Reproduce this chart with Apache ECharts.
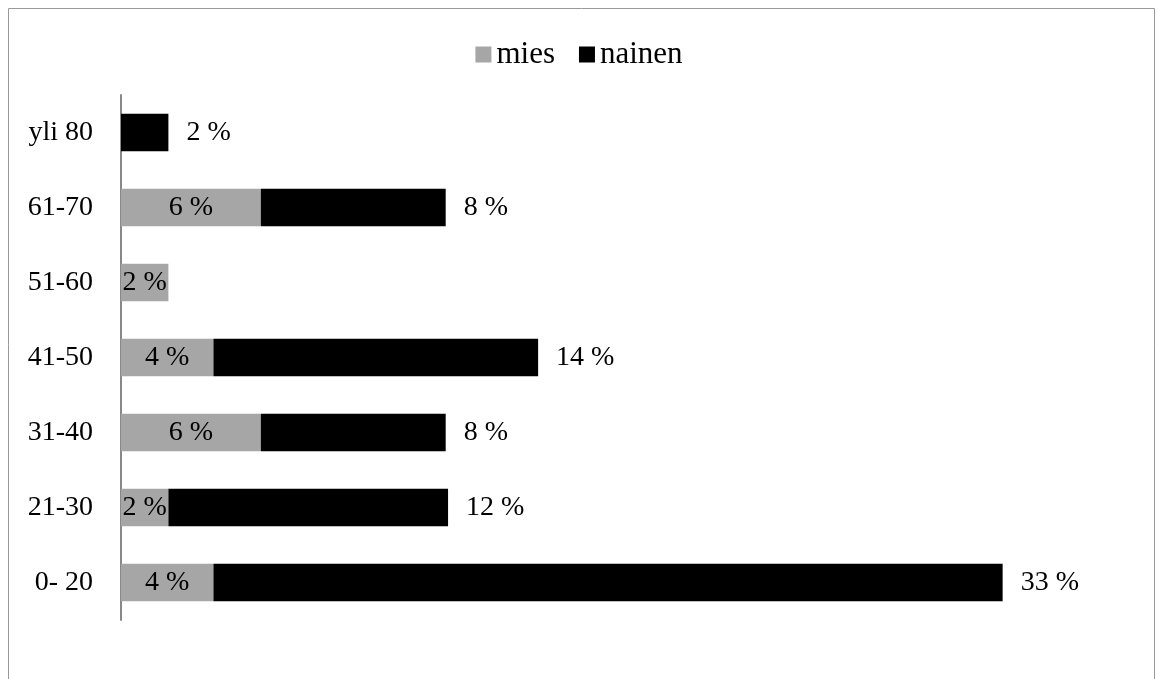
<!DOCTYPE html>
<html>
<head>
<meta charset="utf-8">
<script src="https://cdn.jsdelivr.net/npm/echarts@6/dist/echarts.min.js"></script>
<style>
  html, body { margin: 0; padding: 0; background: #fff; }
  #chart { width: 1158px; height: 679px; }
</style>
</head>
<body>
<div id="chart"></div>
<script>
// age groups, bottom to top
var ageGroups = ['0- 20', '21-30', '31-40', '41-50', '51-60', '61-70', 'yli 80'];
// share of respondents, %
var mies = [3.9, 2.0, 5.9, 3.9, 2.0, 5.9, 0];
var nainen = [33.3, 11.8, 7.8, 13.7, 0, 7.8, 2.0];

var font = 'Liberation Serif';

function pct(p) {
  return p.value ? Math.round(p.value) + ' %' : '';
}

var chart = echarts.init(document.getElementById('chart'));
chart.setOption({
  animation: false,
  textStyle: { fontFamily: font, color: '#000' },
  graphic: [{
    type: 'rect',
    shape: { x: 8.5, y: 8.5, width: 1146, height: 700 },
    style: { fill: 'none', stroke: '#999', lineWidth: 1 }
  }],
  legend: {
    top: 34,
    left: 'center',
    icon: 'rect',
    itemWidth: 16,
    itemHeight: 16,
    itemGap: 24,
    textStyle: { fontFamily: font, fontSize: 31, color: '#000' },
    data: ['mies', 'nainen']
  },
  grid: { left: 121, right: 89, top: 95, bottom: 59, containLabel: false },
  xAxis: {
    type: 'value',
    min: 0,
    max: 40,
    show: false,
    splitLine: { show: false }
  },
  yAxis: {
    type: 'category',
    data: ageGroups,
    axisLine: { show: true, lineStyle: { color: '#888', width: 2 } },
    axisTick: { show: false },
    axisLabel: { fontFamily: font, fontSize: 28, color: '#000', margin: 28 }
  },
  series: [{
    name: 'mies',
    type: 'bar',
    stack: 'total',
    barWidth: '50%',
    itemStyle: { color: '#a6a6a6' },
    label: { show: true, position: 'inside', fontFamily: font, fontSize: 28, color: '#000', formatter: pct },
    data: mies
  }, {
    name: 'nainen',
    type: 'bar',
    stack: 'total',
    barWidth: '50%',
    itemStyle: { color: '#000' },
    label: { show: true, position: 'right', distance: 18, fontFamily: font, fontSize: 28, color: '#000', formatter: pct },
    data: nainen
  }]
});
</script>
</body>
</html>
